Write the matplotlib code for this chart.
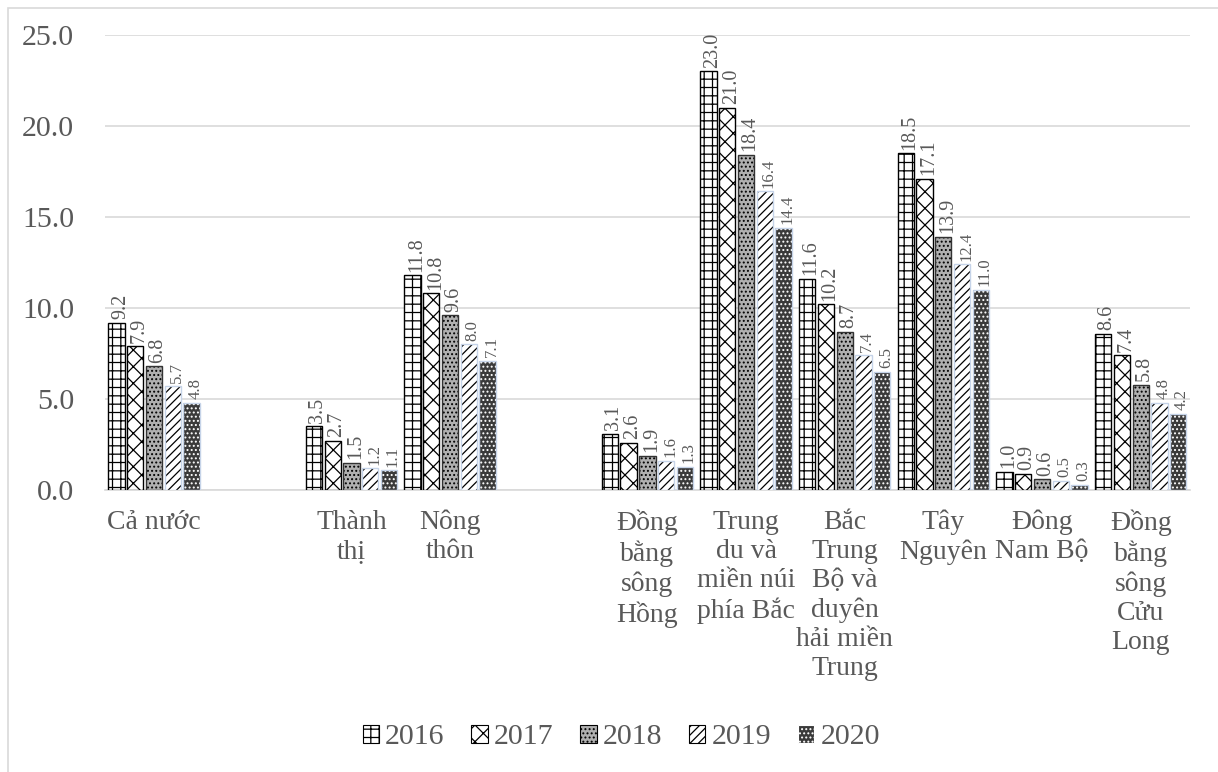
import matplotlib.pyplot as plt
import matplotlib.patches as mpatches
import numpy as np

plt.rcParams['font.family'] = ['Liberation Serif', 'DejaVu Serif']
plt.rcParams['hatch.linewidth'] = 0.9

categories = ["Cả nước", "", "Thành\nthị", "Nông\nthôn", "",
              "Đồng\nbằng\nsông\nHồng", "Trung\ndu và\nmiền núi\nphía Bắc",
              "Bắc\nTrung\nBộ và\nduyên\nhải miền\nTrung", "Tây\nNguyên",
              "Đông\nNam Bộ", "Đồng\nbằng\nsông\nCửu\nLong"]
years = ["2016", "2017", "2018", "2019", "2020"]
v2016 = [9.2, None, 3.5, 11.8, None, 3.1, 23.0, 11.6, 18.5, 1.0, 8.6]
v2017 = [7.9, None, 2.7, 10.8, None, 2.6, 21.0, 10.2, 17.1, 0.9, 7.4]
v2018 = [6.8, None, 1.5, 9.6, None, 1.9, 18.4, 8.7, 13.9, 0.6, 5.8]
v2019 = [5.7, None, 1.2, 8.0, None, 1.6, 16.4, 7.4, 12.4, 0.5, 4.8]
v2020 = [4.8, None, 1.1, 7.1, None, 1.3, 14.4, 6.5, 11.0, 0.3, 4.2]
series = [v2016, v2017, v2018, v2019, v2020]

# face, hatch colour, hatch, outline, label size
styles = [
    ("white", "black", "++", "black", 14.5),
    ("white", "black", "xx", "black", 14.5),
    ("#b0b0b0", "black", "....", "#333333", 14.5),
    ("white", "black", "////", "#c5d3e8", 12),
    ("#3a3a3a", "white", "....", "#c5d3e8", 12),
]

txt = "#595959"
fig = plt.figure(figsize=(12.18, 7.72), dpi=100)
ax = fig.add_axes([0.086, 0.365, 0.891, 0.59])

x = np.arange(len(categories))
pitch = 0.19
width = 0.165
handles = []
for i, (vals, st) in enumerate(zip(series, styles)):
    face, hcol, hatch, outline, fs = st
    idx = [k for k, v in enumerate(vals) if v is not None]
    xs = x[idx] + (i - 2) * pitch
    ys = [vals[k] for k in idx]
    ax.bar(xs, ys, width, color=face, edgecolor=hcol, hatch=hatch,
           linewidth=0, zorder=3)
    ax.bar(xs, ys, width, fill=False, edgecolor=outline, linewidth=1.0,
           zorder=4)
    handles.append(mpatches.Patch(facecolor=face, edgecolor=hcol,
                                  hatch=hatch, linewidth=0.8, label=years[i]))
    for xx, yy in zip(xs, ys):
        ax.text(xx + 0.04, yy + 0.2, "%.1f" % yy, rotation=90, ha="center",
                va="bottom", fontsize=fs, color=txt, zorder=5)

ax.set_xlim(-0.5, len(categories) - 0.5)
ax.set_ylim(0, 25)
ax.set_yticks(np.arange(0, 25.1, 5))
ax.set_yticklabels(["%.1f" % t for t in np.arange(0, 25.1, 5)])
ax.tick_params(axis="y", length=0, labelsize=21.5, labelcolor=txt, pad=22)
ax.set_xticks(x)
ax.set_xticklabels(categories, fontsize=20, color=txt, linespacing=1.22,
                   va="top", ha="center")
ax.tick_params(axis="x", length=0, pad=14)
ax.grid(axis="y", color="#d9d9d9", linewidth=1.2, zorder=0)
for s in ["top", "right", "left"]:
    ax.spines[s].set_visible(False)
ax.spines["bottom"].set_color("#d9d9d9")
ax.spines["bottom"].set_linewidth(1.2)

fig.legend(handles=handles, loc="center", bbox_to_anchor=(0.51, 0.045),
           ncol=5, frameon=False, prop={"family": "Liberation Serif", "size": 21.5},
           handlelength=0.55, handleheight=0.55, handletextpad=0.2,
           columnspacing=0.9, labelcolor=txt)

fig.patches.append(mpatches.Rectangle((8 / 1218, -0.01), 1.0, 1 - 8 / 772 + 0.01,
                                      transform=fig.transFigure, fill=False,
                                      edgecolor="#d9d9d9", linewidth=1.2))

plt.savefig("out.png", dpi=100)
